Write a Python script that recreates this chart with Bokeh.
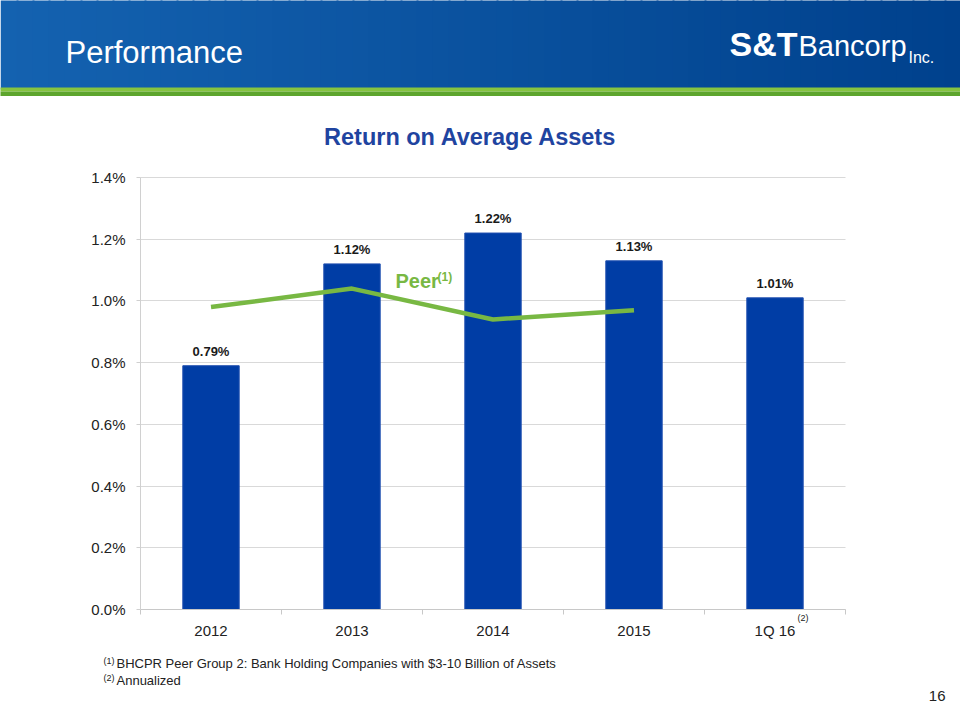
from bokeh.plotting import figure
from bokeh.models import (Range1d, PrintfTickFormatter, FixedTicker, LinearAxis, Grid)
from bokeh.embed import file_html
from bokeh.resources import INLINE
from bokeh.core.properties import value

# ---------------- data ----------------
categories = ["2012", "2013", "2014", "2015", "1Q 16"]
roa = [0.79, 1.12, 1.22, 1.13, 1.01]
peer = [0.98, 1.04, 0.94, 0.97]          # 2012-2015
y_ticks = [0.0, 0.2, 0.4, 0.6, 0.8, 1.0, 1.2, 1.4]
roa_labels = [f"{v:.2f}%" for v in roa]

FONT = "Liberation Sans"
W, H = 960, 720

# chart frame placement on the slide (pixels)
FL, FR, FT, FB = 140, 845, 177, 609
n_cat = len(categories)
ux = (FR - FL) / n_cat                 # px per category
uy = (FB - FT) / 1.4                   # px per percent

centers = [i + 0.5 for i in range(n_cat)]
peer_x = centers[:len(peer)]

p = figure(width=W, height=H, x_range=Range1d(0, W), y_range=Range1d(H, 0),
           output_backend="svg", toolbar_location=None, min_border=0,
           x_axis_type=None, y_axis_type=None, outline_line_color=None)
p.grid.visible = False
p.extra_x_ranges = {"cx": Range1d(-FL / ux, n_cat + (W - FR) / ux)}
p.extra_y_ranges = {"cy": Range1d(-(H - FB) / uy, 1.4 + FT / uy)}


def txt(x, baseline, s, size, color="#222222", style="normal", align="left"):
    """place a text by its alphabetic baseline (pixels)"""
    p.text(x=[x], y=[baseline + 0.21 * size], text=[s], text_font=value(FONT),
           text_font_size=f"{size}px", text_font_style=style, text_color=color,
           text_align=align, text_baseline="bottom")


# ---------------- header banner ----------------
def lerp(c1, c2, t):
    a = [int(c1[i:i + 2], 16) for i in (1, 3, 5)]
    b = [int(c2[i:i + 2], 16) for i in (1, 3, 5)]
    return "#" + "".join(f"{round(a[k] + (b[k] - a[k]) * t):02x}" for k in range(3))


ns = 60
step = W // ns
lefts = [i * step for i in range(ns)]
rights = [(i + 1) * step + 2 for i in range(ns)]
cols = [lerp("#1462b0", "#00418d", i / (ns - 1)) for i in range(ns)]
p.quad(left=lefts, right=rights, top=[-4] * ns, bottom=[89] * ns, fill_color=cols, line_color=None)
p.quad(left=[-2], right=[W + 2], top=[87], bottom=[91], fill_color="#86c440", line_color=None)
p.quad(left=[-2], right=[W + 2], top=[91], bottom=[95.5], fill_color="#5ea52d", line_color=None)

txt(65, 63, "Performance", 31, "white")
txt(729, 55, "S&T", 34, "white", "bold")
txt(798, 55, "Bancorp", 29, "white")
txt(908, 62, "Inc.", 16, "white")

# ---------------- chart ----------------
yticker = FixedTicker(ticks=y_ticks)
grid_kw = dict(dimension=1, ticker=yticker, x_range_name="cx", y_range_name="cy",
               grid_line_color="#d9d9d9", grid_line_width=1)
if "cross_bounds" in Grid.properties():
    grid_kw["cross_bounds"] = (0, n_cat)
    p.add_layout(Grid(**grid_kw))
else:
    p.segment(x0=[0] * len(y_ticks), x1=[n_cat] * len(y_ticks), y0=y_ticks, y1=y_ticks,
              line_color="#d9d9d9", line_width=1, x_range_name="cx", y_range_name="cy")

p.vbar(x=centers, top=roa, width=0.4, fill_color="#003da5", line_color="#2150b0", line_width=1,
       x_range_name="cx", y_range_name="cy")
p.line(x=peer_x, y=peer, line_color="#78b843", line_width=4.5,
       x_range_name="cx", y_range_name="cy")
p.text(x=centers, y=roa, text=roa_labels, y_offset=-7, text_align="center",
       text_baseline="bottom", text_font=value(FONT), text_font_style="bold",
       text_font_size="13px", text_color="#1a1a1a", x_range_name="cx", y_range_name="cy")

yaxis = LinearAxis(x_range_name="cx", y_range_name="cy", fixed_location=0, bounds=(0, 1.4),
                   ticker=yticker, formatter=PrintfTickFormatter(format="%.1f%%"))
yaxis.axis_line_color = "#d0d0d0"
yaxis.major_tick_line_color = "#d0d0d0"
yaxis.major_tick_out = 4
yaxis.major_tick_in = 0
yaxis.minor_tick_line_color = None
yaxis.major_label_standoff = 11
yaxis.major_label_text_font = FONT
yaxis.major_label_text_font_size = "15px"
yaxis.major_label_text_color = "#222222"
p.add_layout(yaxis, "left")

xaxis = LinearAxis(x_range_name="cx", y_range_name="cy", fixed_location=0, bounds=(0, n_cat),
                   ticker=FixedTicker(ticks=centers, minor_ticks=list(range(n_cat + 1))),
                   major_label_overrides={c: lab for c, lab in zip(centers, categories)})
xaxis.axis_line_color = "#c8c8c8"
xaxis.major_tick_line_color = None
xaxis.major_tick_out = 0
xaxis.major_tick_in = 0
xaxis.minor_tick_line_color = "#c8c8c8"
xaxis.minor_tick_out = 5
xaxis.minor_tick_in = 0
xaxis.major_label_standoff = 7
xaxis.major_label_text_font = FONT
xaxis.major_label_text_font_size = "15px"
xaxis.major_label_text_color = "#222222"
p.add_layout(xaxis, "below")

# ---------------- texts ----------------
txt(470, 144.5, "Return on Average Assets", 23.5, "#1f44a0", "bold", "center")
txt(395, 287, "Peer", 20, "#78b843", "bold")
txt(437, 280.5, "(1)", 12, "#78b843", "bold")
txt(797, 620.5, "(2)", 9)
txt(103, 664, "(1)", 9)
txt(116, 668, "BHCPR Peer Group 2: Bank Holding Companies with $3-10 Billion of Assets", 13)
txt(103, 681, "(2)", 9)
txt(116, 685, "Annualized", 13)
txt(945, 697, "16", 15, align="right")

open("out.html", "w").write(file_html(p, INLINE))
